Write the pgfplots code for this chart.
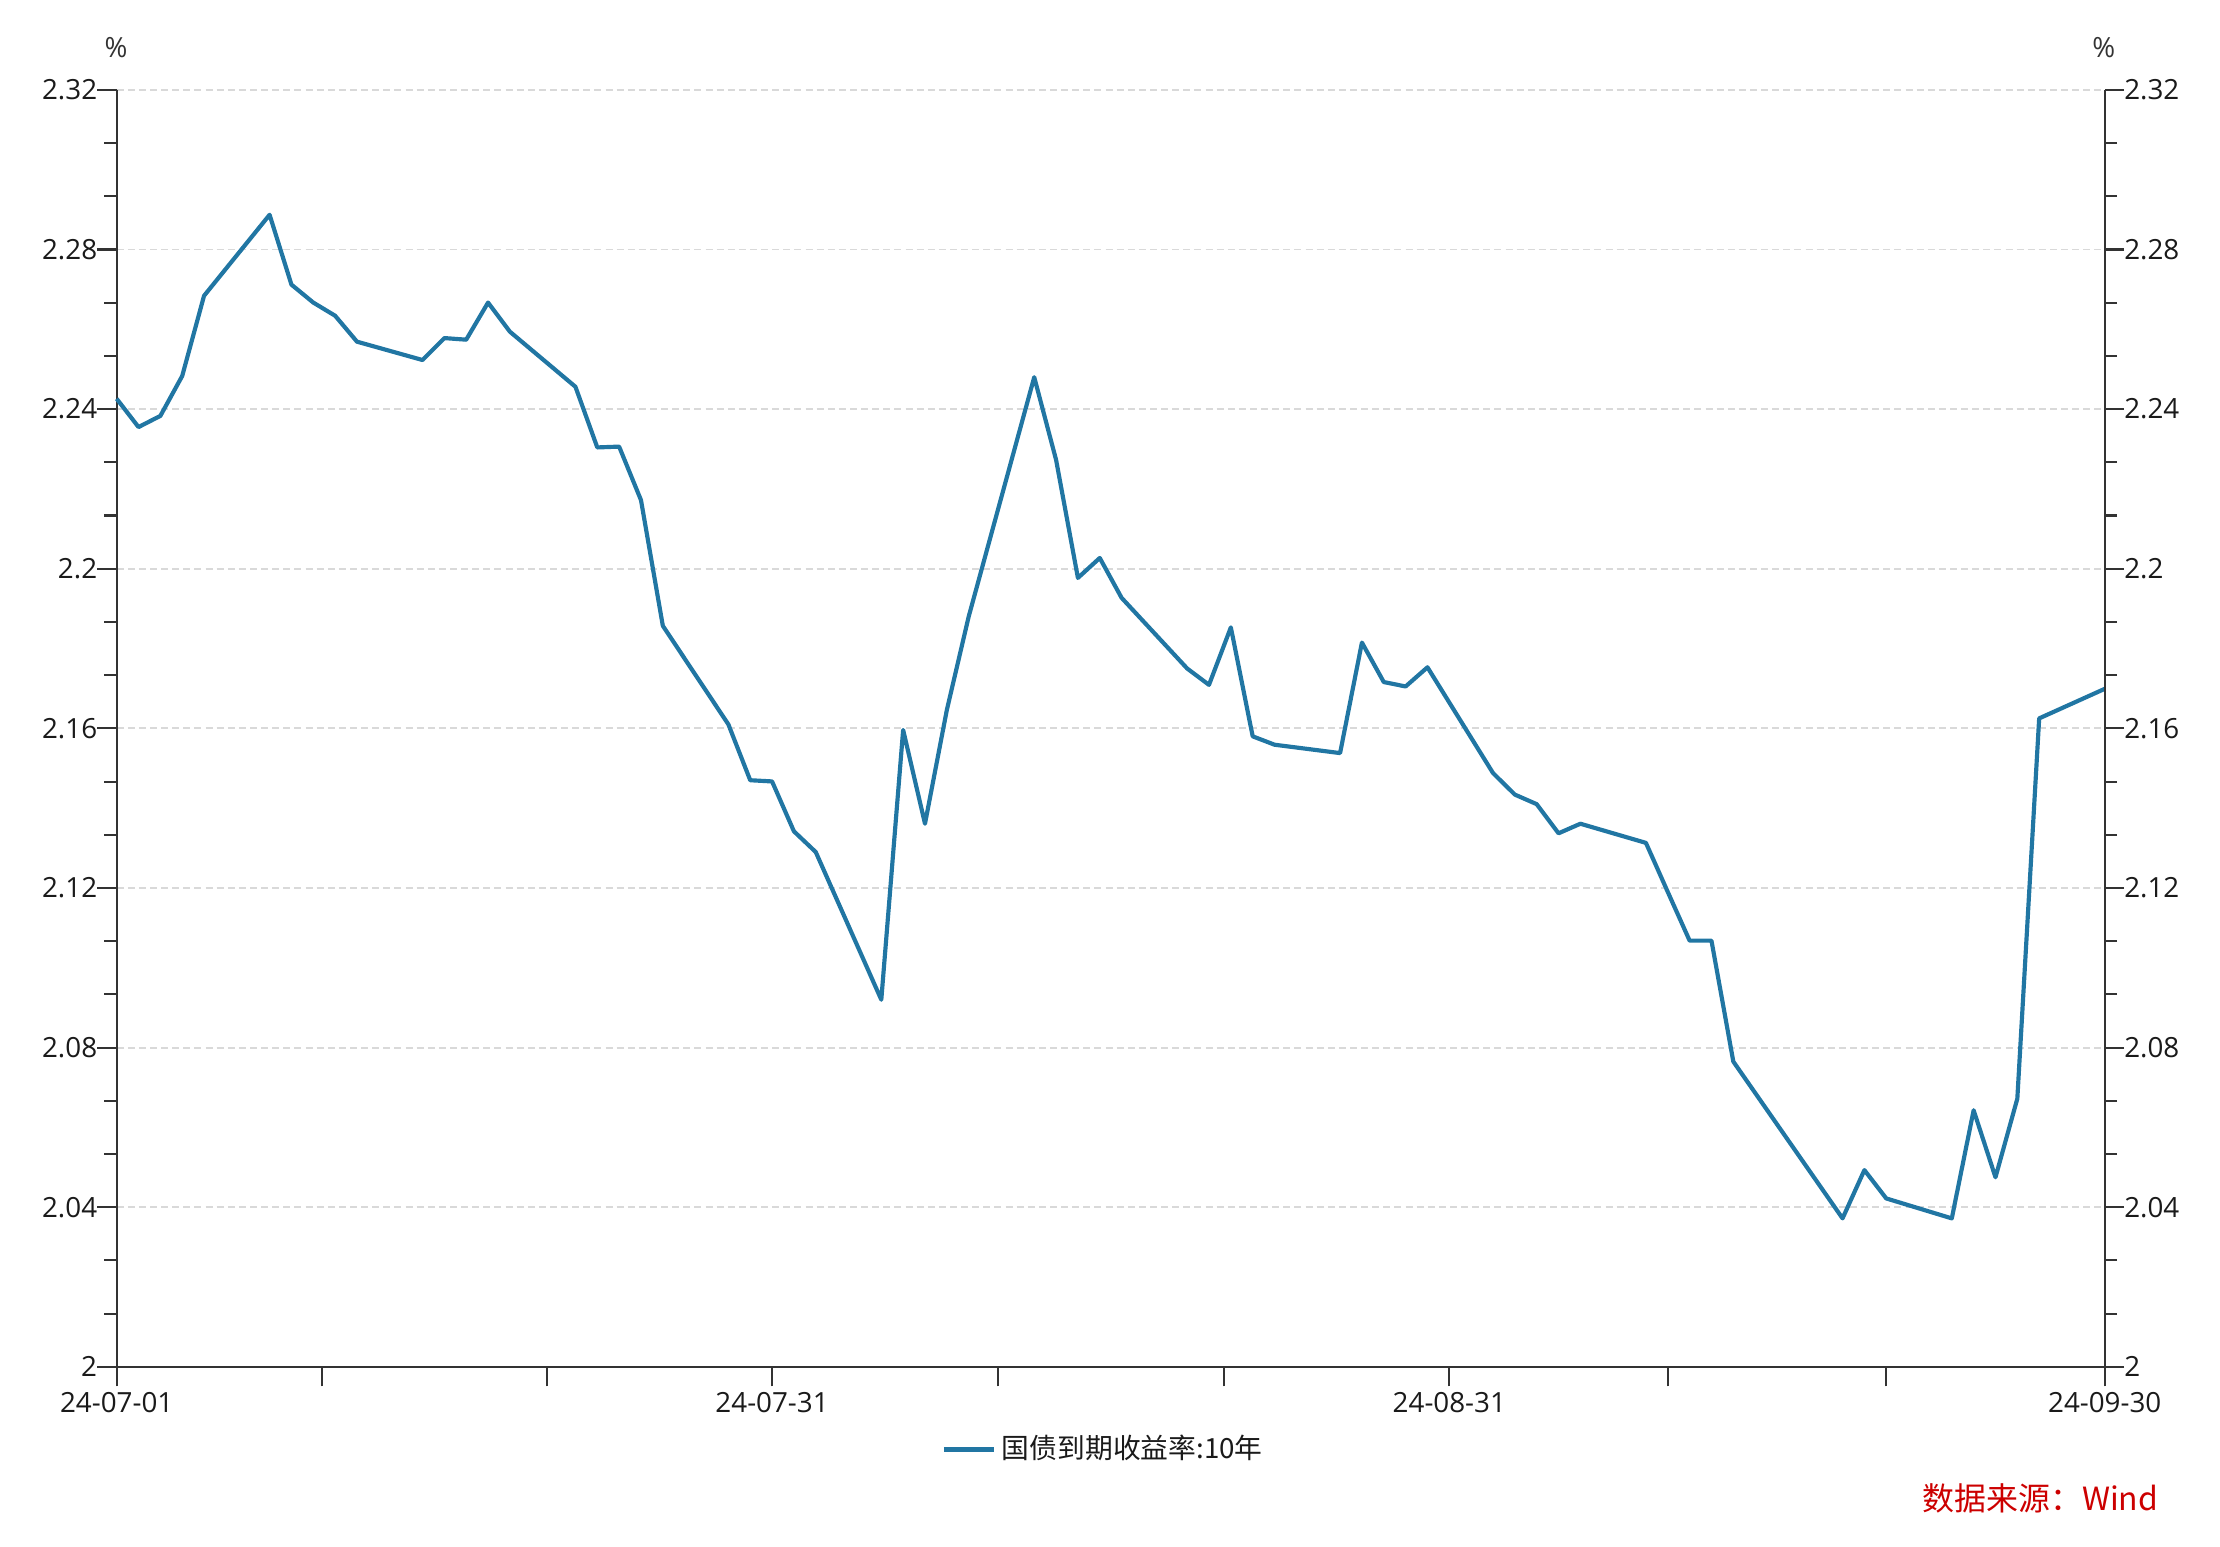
\documentclass[border=0pt]{standalone}
\usepackage{fontspec}
\setmainfont{Open Sans}
\newfontfamily\cjk{Noto Sans CJK SC}
\usepackage{pgfplots}
\pgfplotsset{compat=1.18}
\definecolor{lineblue}{RGB}{33,118,163}
\definecolor{axisgray}{RGB}{51,51,51}
\definecolor{gridgray}{RGB}{217,217,217}
\definecolor{srcred}{RGB}{204,0,0}
\definecolor{labelblack}{RGB}{26,26,26}

\begin{document}
\begin{tikzpicture}
\useasboundingbox (0,0) rectangle (799.2pt,556.56pt);
\pgfplotsset{
  common/.style={
    scale only axis, width=715.7pt, height=459.7pt,
    at={(42.0pt,64.5pt)}, anchor=south west,
    xmin=0, xmax=91, ymin=2, ymax=2.32,
    ytick={2,2.04,2.08,2.12,2.16,2.2,2.24,2.28,2.32},
    yticklabels={2,2.04,2.08,2.12,2.16,2.2,2.24,2.28,2.32},
    minor y tick num=2,
    tick align=outside,
    major tick length=7pt, minor tick length=4.5pt,
    tick style={axisgray, line width=0.75pt},
    axis line style={axisgray, line width=0.75pt, -},
    every tick label/.append style={font=\fontsize{10}{12}\selectfont, text=labelblack},
    clip=false,
  }
}
\begin{axis}[common,
  axis x line*=bottom, axis y line*=left,
  xtick={0,9.4,19.7,30,40.33,50.67,61,71,81,91},
  xticklabels={24-07-01,,,24-07-31,,,24-08-31,,,24-09-30},
  xticklabel style={yshift=1.2pt},
  yticklabel style={xshift=3.5pt},
  ymajorgrids,
  major grid style={gridgray, dash pattern=on 2.5pt off 1.5pt, line width=0.7pt},
  legend style={at={(0.497,-0.0645)}, anchor=center, draw=none, fill=none,
    font=\cjk\fontsize{10}{12}\selectfont, text=labelblack},
  legend cell align=left,
  legend image code/.code={\draw[#1, line width=1.9pt] (0pt,0pt) -- (18pt,0pt);},
]
\addplot[lineblue, line width=1.5pt, line join=round] coordinates {
(0,2.2426) (1,2.2355) (2,2.2383) (3,2.2483) (4,2.2684)
(7,2.2887) (8,2.2712) (9,2.2667) (10,2.2634) (11,2.2569)
(14,2.2523) (15,2.2578) (16,2.2574) (17,2.2667) (18,2.2594)
(21,2.2456) (22,2.2304) (23,2.2306) (24,2.2172) (25,2.1857)
(28,2.1610) (29,2.1470) (30,2.1467)
(31,2.1342) (32,2.1290)
(35,2.0920) (36,2.1596) (37,2.1361) (38,2.1646) (39,2.1880)
(42,2.2480) (43,2.2273) (44,2.1977) (45,2.2027) (46,2.1927)
(49,2.1750) (50,2.1709) (51,2.1853) (52,2.1580) (53,2.1559)
(56,2.1538) (57,2.1815) (58,2.1716) (59,2.1705) (60,2.1753)
(63,2.1488) (64,2.1434) (65,2.1410) (66,2.1337) (67,2.1361)
(70,2.1313) (71,2.1190) (72,2.1068) (73,2.1068) (74,2.0765)
(79,2.0372) (80,2.0493) (81,2.0422)
(84,2.0372) (85,2.0643) (86,2.0475) (87,2.0672) (88,2.1625)
(91,2.1699)
};
\addlegendentry{国债到期收益率:10年}
\end{axis}
\begin{axis}[common,
  axis x line=none, axis y line*=right,
  yticklabel style={xshift=-3.5pt},
]
\addplot[draw=none] coordinates {(0,2) (91,2.32)};
\end{axis}
\node[text=axisgray, font=\fontsize{10}{12}\selectfont] at (41.8pt,539.6pt) {\%};
\node[text=axisgray, font=\fontsize{10}{12}\selectfont] at (757.4pt,539.6pt) {\%};
\node[anchor=east, text=srcred, font=\cjk\fontsize{11.5}{13}\selectfont] at (780.5pt,17.3pt) {数据来源：Wind};
\end{tikzpicture}
\end{document}
